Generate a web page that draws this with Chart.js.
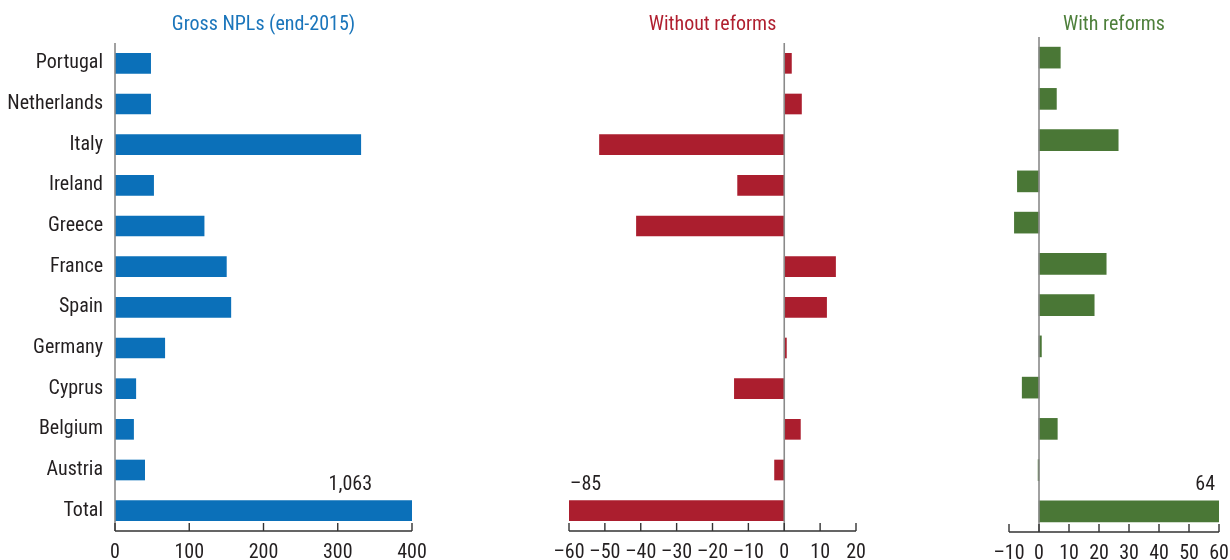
<!DOCTYPE html>
<html>
<head>
<meta charset="utf-8">
<script src="https://cdn.jsdelivr.net/npm/chart.js@4.4.1/dist/chart.umd.min.js"></script>
<style>
  html, body { margin: 0; padding: 0; background: #fff; }
  #wrap { position: relative; width: 1230px; height: 560px; overflow: hidden; }
  #wrap canvas { position: absolute; top: 0; }
</style>
</head>
<body>
<div id="wrap">
  <canvas id="c1" width="440" height="560" style="left:0px"></canvas>
  <canvas id="c2" width="340" height="560" style="left:540px"></canvas>
  <canvas id="c3" width="240" height="560" style="left:990px"></canvas>
</div>
<script>
// data
var categories = ['Portugal', 'Netherlands', 'Italy', 'Ireland', 'Greece', 'France',
                  'Spain', 'Germany', 'Cyprus', 'Belgium', 'Austria', 'Total'];
var grossNPLs = [48, 48, 331, 52, 120, 150, 156, 67, 28, 25, 40, 1063];
var withoutReforms = [2, 4.8, -51.5, -13, -41.2, 14.3, 11.8, 0.6, -13.9, 4.5, -2.7, -85];
var withReforms = [7.1, 5.8, 26.4, -7.2, -8.2, 22.4, 18.4, 0.8, -5.6, 6.1, -0.3, 64];
var panelTitles = ['Gross NPLs (end-2015)', 'Without reforms', 'With reforms'];
var totalLabels = ['1,063', '\u201385', '64'];

var FONT = "'Liberation Sans Narrow', 'Arial Narrow', 'Roboto Condensed', sans-serif";
var INK = '#231f20';

// titles, axis line with upward ticks, zero line and the "Total" value label
var panelDecor = {
    id: 'panelDecor',
    afterDatasetsDraw: function (chart) {
        var o = chart.options.plugins.panelDecor;
        var ctx = chart.ctx;
        var area = chart.chartArea;
        var xs = chart.scales.x;
        var ys = chart.scales.y;
        ctx.save();

        // zero line
        var x0 = xs.getPixelForValue(0);
        ctx.strokeStyle = '#8a8a8a';
        ctx.lineWidth = 1.6;
        ctx.beginPath();
        ctx.moveTo(x0, area.top);
        ctx.lineTo(x0, area.bottom);
        ctx.stroke();

        // bottom axis
        ctx.strokeStyle = '#333';
        ctx.lineWidth = 1.4;
        ctx.beginPath();
        ctx.moveTo(area.left, area.bottom);
        ctx.lineTo(area.right, area.bottom);
        xs.ticks.forEach(function (t) {
            var px = xs.getPixelForValue(t.value);
            ctx.moveTo(px, area.bottom);
            ctx.lineTo(px, area.bottom - 8);
        });
        ctx.stroke();

        // title
        ctx.fillStyle = o.titleColor;
        ctx.font = '20px ' + FONT;
        ctx.textAlign = 'center';
        ctx.textBaseline = 'middle';
        ctx.fillText(o.title, (area.left + area.right) / 2, 25);

        // value label above the clipped Total bar
        var yTop = ys.getPixelForValue(categories.length - 1) - 10;
        ctx.fillStyle = INK;
        ctx.font = '20px ' + FONT;
        ctx.textBaseline = 'alphabetic';
        if (o.labelAlign === 'left') {
            ctx.textAlign = 'left';
            ctx.fillText(o.label, area.left + o.labelDx, yTop - 11);
        } else {
            ctx.textAlign = 'right';
            ctx.fillText(o.label, area.right - o.labelDx, yTop - 11);
        }
        ctx.restore();
    }
};

function makePanel(id, values, color, cfg) {
    var ctx = document.getElementById(id).getContext('2d');
    return new Chart(ctx, {
        type: 'bar',
        data: {
            labels: categories,
            datasets: [{
                data: values,
                backgroundColor: color,
                borderWidth: 0,
                barThickness: cfg.barThickness
            }]
        },
        options: {
            indexAxis: 'y',
            responsive: false,
            animation: false,
            devicePixelRatio: 1,
            layout: { padding: { top: cfg.top, bottom: 0, left: cfg.left, right: cfg.right } },
            plugins: {
                legend: { display: false },
                tooltip: { enabled: false },
                panelDecor: {
                    title: cfg.title,
                    titleColor: cfg.titleColor,
                    label: cfg.label,
                    labelAlign: cfg.labelAlign,
                    labelDx: cfg.labelDx
                }
            },
            scales: {
                x: {
                    min: cfg.min,
                    max: cfg.max,
                    grid: { display: false, drawTicks: false },
                    border: { display: false },
                    ticks: {
                        stepSize: cfg.step,
                        autoSkip: false,
                        padding: 10,
                        color: INK,
                        font: { family: FONT, size: 20 },
                        maxRotation: 0,
                        callback: function (v) { return String(v).replace('-', '\u2013'); }
                    },
                    afterFit: function (s) {
                        s.height = cfg.axisHeight;
                        s.paddingLeft = 0;
                        s.paddingRight = 0;
                    }
                },
                y: {
                    display: cfg.showLabels,
                    grid: { display: false, drawTicks: false },
                    border: { display: false },
                    ticks: {
                        padding: 12,
                        color: INK,
                        font: { family: FONT, size: 20 }
                    },
                    afterFit: function (s) { s.width = cfg.showLabels ? 115 : 0; }
                }
            }
        },
        plugins: [panelDecor]
    });
}

makePanel('c1', grossNPLs, '#0b70b9', {
    title: panelTitles[0], titleColor: '#1a75bb', label: totalLabels[0],
    labelAlign: 'right', labelDx: 40,
    min: 0, max: 400, step: 100, showLabels: true,
    top: 43, left: 0, right: 28, axisHeight: 29, barThickness: 20
});
makePanel('c2', withoutReforms, '#ab1e2e', {
    title: panelTitles[1], titleColor: '#b01f2f', label: totalLabels[1],
    labelAlign: 'left', labelDx: 1,
    min: -60, max: 20, step: 10, showLabels: false,
    top: 43, left: 29, right: 24, axisHeight: 29, barThickness: 20
});
makePanel('c3', withReforms, '#4a7736', {
    title: panelTitles[2], titleColor: '#4d7f3a', label: totalLabels[2],
    labelAlign: 'right', labelDx: 4,
    min: -10, max: 60, step: 10, showLabels: false,
    top: 37, left: 19, right: 11, axisHeight: 28, barThickness: 21
});
</script>
</body>
</html>
